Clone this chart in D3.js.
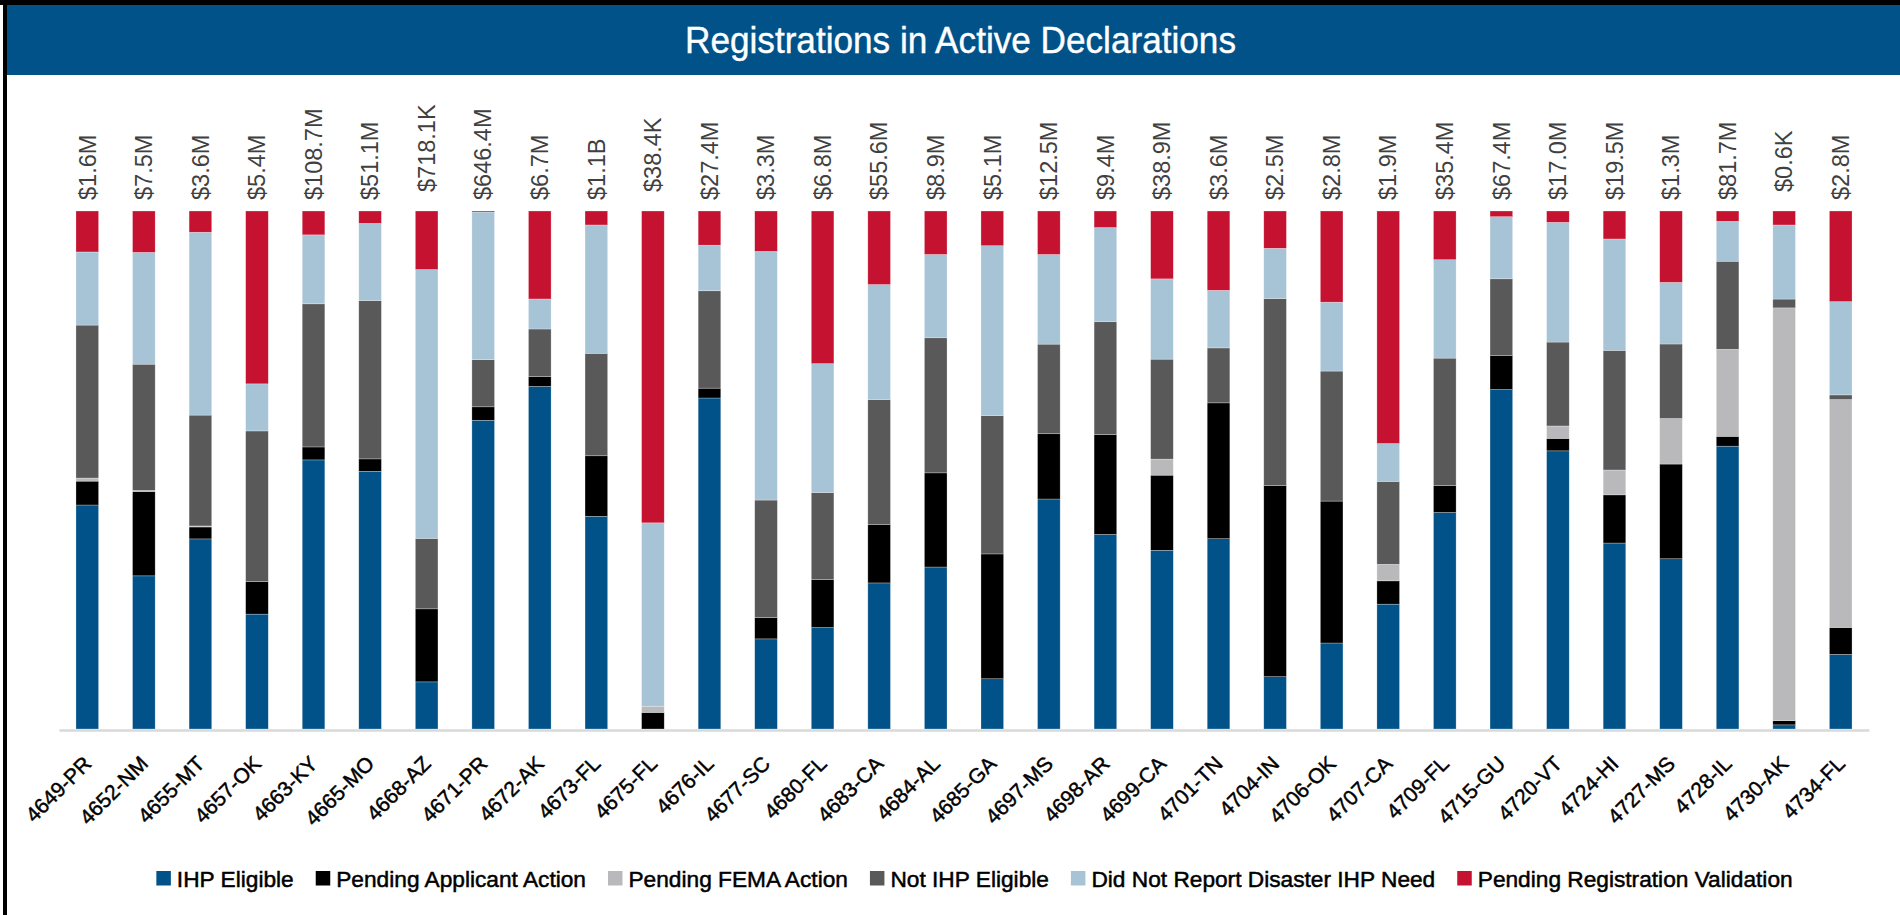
<!DOCTYPE html>
<html>
<head>
<meta charset="utf-8">
<script src="https://cdn.jsdelivr.net/npm/d3@7"></script>
<style>
  html, body { margin: 0; padding: 0; background: #fff; }
  svg { display: block; }
  text { font-family: "Liberation Sans", Arial, sans-serif; }
</style>
</head>
<body>
<svg id="chart" width="1900" height="915"></svg>
<script>
const categories = ["4649-PR","4652-NM","4655-MT","4657-OK","4663-KY","4665-MO","4668-AZ","4671-PR","4672-AK","4673-FL","4675-FL","4676-IL","4677-SC","4680-FL","4683-CA","4684-AL","4685-GA","4697-MS","4698-AR","4699-CA","4701-TN","4704-IN","4706-OK","4707-CA","4709-FL","4715-GU","4720-VT","4724-HI","4727-MS","4728-IL","4730-AK","4734-FL"];

const totalLabels = ["$1.6M","$7.5M","$3.6M","$5.4M","$108.7M","$51.1M","$718.1K","$646.4M","$6.7M","$1.1B","$38.4K","$27.4M","$3.3M","$6.8M","$55.6M","$8.9M","$5.1M","$12.5M","$9.4M","$38.9M","$3.6M","$2.5M","$2.8M","$1.9M","$35.4M","$67.4M","$17.0M","$19.5M","$1.3M","$81.7M","$0.6K","$2.8M"];

// Share of registrations (%) per declaration
const ihpEligible       = [43.2,29.6,36.7,22.2,51.9,49.8,9.1,59.6,66.2,41.1,0,63.9,17.4,19.6,28.2,31.3,9.7,44.4,37.6,34.5,36.7,10.1,16.6,24.1,41.8,65.6,53.7,35.9,32.9,54.6,0.8,14.4];
const pendingApplicant  = [4.6,16.3,2.3,6.3,2.5,2.4,14.1,2.6,1.9,11.7,3.2,1.9,4.1,9.3,11.3,18.2,24.1,12.6,19.3,14.5,26.2,36.9,27.4,4.5,5.2,6.6,2.4,9.3,18.3,1.9,0.8,5.2];
const pendingFema       = [0.6,0.2,0.2,0,0,0,0,0,0,0,1.2,0,0,0,0,0,0,0,0,3.1,0,0,0,3.2,0,0,2.4,4.8,8.8,16.8,79.7,44.0];
const notEligible       = [29.5,24.4,21.4,29.1,27.6,30.6,13.6,9.1,9.2,19.8,0,18.8,22.7,16.8,24.1,26.1,26.7,17.3,21.8,19.3,10.6,36.1,25.1,16.0,24.6,14.8,16.2,23.1,14.4,17.0,1.7,0.9];
const didNotReport      = [14.1,21.6,35.3,9.1,13.3,14.9,51.9,28.5,5.8,24.8,35.4,8.8,48.0,24.9,22.2,16.1,32.8,17.3,18.2,15.5,11.1,9.7,13.3,7.3,19.0,12.0,23.1,21.5,11.9,7.7,14.3,18.0];
const pendingValidation = [7.9,8.0,4.1,33.4,4.6,2.4,11.3,0.2,17.0,2.7,60.2,6.6,7.8,29.5,14.2,8.4,6.7,8.4,3.2,13.1,15.3,7.2,17.6,44.9,9.4,1.1,2.2,5.4,13.8,2.0,2.7,17.5];

const seriesNames = ["IHP Eligible","Pending Applicant Action","Pending FEMA Action","Not IHP Eligible","Did Not Report Disaster IHP Need","Pending Registration Validation"];
const seriesValues = [ihpEligible, pendingApplicant, pendingFema, notEligible, didNotReport, pendingValidation];
const seriesColors = ["#005288","#000000","#b9b9bb","#595959","#a7c3d6","#c41230"];

const title = "Registrations in Active Declarations";

// ---- build table
const table = categories.map((c, i) => {
  const row = { cat: c, label: totalLabels[i] };
  seriesNames.forEach((s, k) => row[s] = seriesValues[k][i]);
  return row;
});

const svg = d3.select("#chart");
const W = 1900, H = 915;

svg.append("rect").attr("width", W).attr("height", H).attr("fill", "#fff");

// frame borders (left & top)
svg.append("rect").attr("x", 3).attr("y", 0).attr("width", 4).attr("height", H).attr("fill", "#000");
svg.append("rect").attr("x", 0).attr("y", 0).attr("width", W).attr("height", 5).attr("fill", "#000");

// title band
svg.append("rect").attr("x", 7).attr("y", 5).attr("width", W - 7).attr("height", 70).attr("fill", "#005288");
svg.append("text")
  .attr("x", 960.5).attr("y", 53)
  .attr("text-anchor", "middle")
  .attr("fill", "#fff")
  .attr("stroke", "#fff")
  .attr("stroke-width", 0.4)
  .attr("font-size", 37)
  .attr("textLength", 551)
  .attr("lengthAdjust", "spacingAndGlyphs")
  .text(title);

// scales
const x = d3.scaleBand().domain(categories).range([59, 1869]).paddingInner(0.6).paddingOuter(0.3);
const y = d3.scaleLinear().domain([0, 1]).range([729, 211]);
const color = d3.scaleOrdinal().domain(seriesNames).range(seriesColors);

const stack = d3.stack().keys(seriesNames).offset(d3.stackOffsetExpand);
const layers = stack(table);

const g = svg.append("g");
g.selectAll("g.layer")
  .data(layers)
  .join("g")
  .attr("class", "layer")
  .attr("fill", d => color(d.key))
  .selectAll("rect")
  .data(d => d)
  .join("rect")
  .attr("x", d => x(d.data.cat))
  .attr("width", x.bandwidth())
  .attr("y", d => y(d[1]))
  .attr("height", d => Math.max(0, y(d[0]) - y(d[1])))
  .attr("stroke", "#ffffff")
  .attr("stroke-width", 0.6)
  .attr("stroke-opacity", 0.45);

// x axis
const axis = svg.append("g")
  .attr("transform", "translate(0,730)")
  .call(d3.axisBottom(x).tickSize(0).tickSizeOuter(0));
axis.select(".domain").attr("stroke", "#d9d9d9").attr("stroke-width", 2.5);
axis.selectAll(".tick text")
  .attr("x", 0).attr("y", 0).attr("dy", 0)
  .attr("text-anchor", "end")
  .attr("transform", "translate(5.5,35) rotate(-45)")
  .attr("font-size", 21)
  .attr("font-family", "\"Liberation Sans\", Arial, sans-serif")
  .attr("fill", "#000")
  .attr("stroke", "#000")
  .attr("stroke-width", 0.45);

// total labels
svg.append("g")
  .selectAll("text")
  .data(table)
  .join("text")
  .attr("transform", d => {
    const cx = x(d.cat) + x.bandwidth() / 2;
    const yy = d.label.endsWith("K") ? 192 : 200;
    return `translate(${cx},${yy}) rotate(-90)`;
  })
  .attr("dy", "0.35em")
  .attr("text-anchor", "start")
  .attr("font-size", 23.5)
  .attr("fill", "#404040")
  .text(d => d.label);

// legend
const legend = svg.append("g");
const items = legend.selectAll("g.item")
  .data(seriesNames)
  .join("g")
  .attr("class", "item");
items.append("rect")
  .attr("width", 14.5).attr("height", 14.5)
  .attr("y", 871)
  .attr("fill", d => color(d));
items.append("text")
  .attr("x", 20.5)
  .attr("y", 887)
  .attr("font-size", 22.7)
  .attr("fill", "#000")
  .attr("stroke", "#000")
  .attr("stroke-width", 0.5)
  .text(d => d);

let cursor = 0;
const offsets = [];
items.each(function() {
  const w = d3.select(this).select("text").node().getComputedTextLength();
  offsets.push(cursor);
  cursor += 20.5 + w + 22;
});
const totalW = cursor - 22;
const startX = 974.5 - totalW / 2;
items.attr("transform", (d, i) => `translate(${startX + offsets[i]},0)`);
</script>
</body>
</html>
